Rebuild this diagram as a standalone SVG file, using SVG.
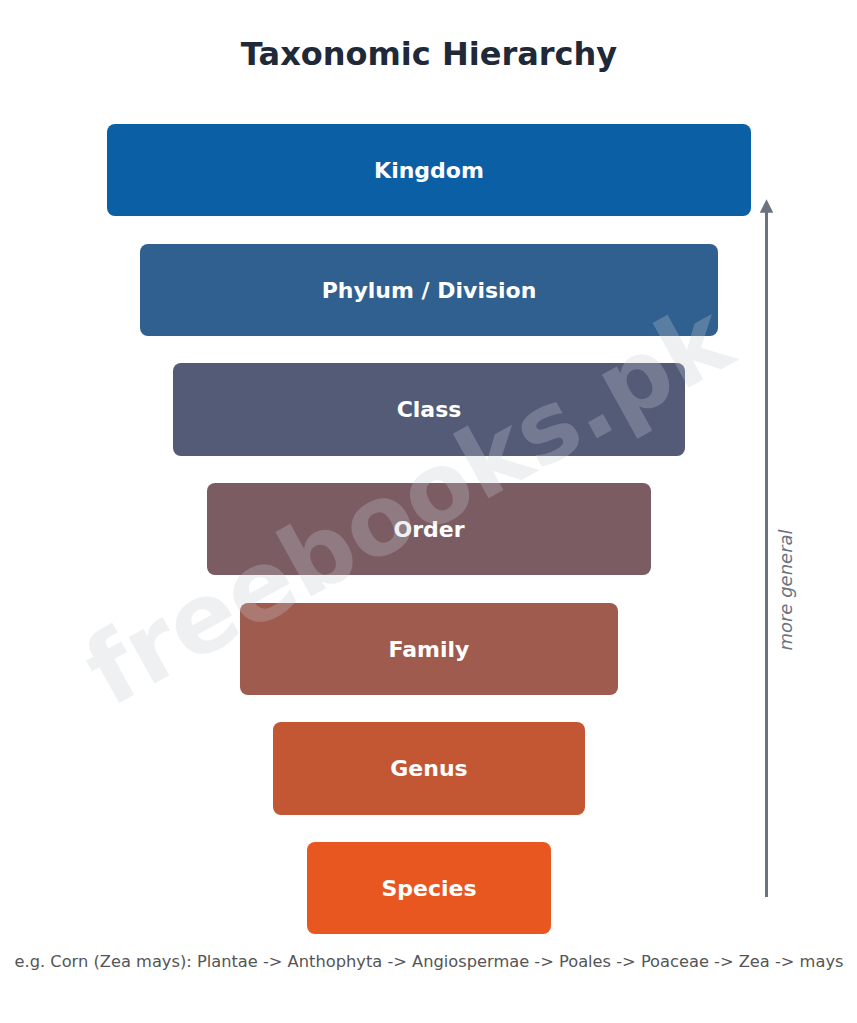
<svg xmlns="http://www.w3.org/2000/svg" width="857" height="1023" viewBox="0 0 857 1023">
<style>
.box{stroke:none}
.lbl{font-family:"DejaVu Sans",sans-serif;font-weight:bold;font-size:22px;fill:#ffffff;text-anchor:middle;dominant-baseline:central}
.title{font-family:"DejaVu Sans",sans-serif;font-weight:bold;font-size:32px;fill:#1f2937;text-anchor:middle}
.foot{font-family:"DejaVu Sans",sans-serif;font-size:16.25px;fill:#555555;text-anchor:middle}
.side{font-family:"DejaVu Sans",sans-serif;font-style:italic;font-size:18px;fill:#6b7280;text-anchor:middle}
.wm{font-family:"DejaVu Sans",sans-serif;font-weight:bold;font-size:97px;fill:#c8ccd4;opacity:0.28;text-anchor:middle}
</style>
<defs>
<marker id="ah" viewBox="0 0 10 10" refX="5" refY="5" markerWidth="4.5" markerHeight="4.5" orient="auto-start-reverse">
<path d="M0,0 L10,5 L0,10 z" fill="#6b7280"/>
</marker>
</defs>
<rect width="857" height="1023" fill="#ffffff"/>
<text class="title" x="429" y="65">Taxonomic Hierarchy</text>
<g id="kingdom"><rect class="box" x="107" y="124" width="644" height="92" rx="8" fill="#0b5fa5"/><text class="lbl" x="429" y="170">Kingdom</text></g>
<g id="phylum"><rect class="box" x="140" y="244" width="578" height="92" rx="8" fill="#30608f"/><text class="lbl" x="429" y="290">Phylum / Division</text></g>
<g id="class"><rect class="box" x="173" y="363" width="512" height="93" rx="8" fill="#545b77"/><text class="lbl" x="429" y="409">Class</text></g>
<g id="order"><rect class="box" x="207" y="483" width="444" height="92" rx="8" fill="#7b5c62"/><text class="lbl" x="429" y="529">Order</text></g>
<g id="family"><rect class="box" x="240" y="603" width="378" height="92" rx="8" fill="#9f5b4d"/><text class="lbl" x="429" y="649">Family</text></g>
<g id="genus"><rect class="box" x="273" y="722" width="312" height="93" rx="8" fill="#c45733"/><text class="lbl" x="429" y="768">Genus</text></g>
<g id="species"><rect class="box" x="307" y="842" width="244" height="92" rx="8" fill="#e85720"/><text class="lbl" x="429" y="888">Species</text></g>
<g id="connectors">
<line x1="766.5" y1="897" x2="766.5" y2="206" stroke="#6b7280" stroke-width="3" marker-end="url(#ah)"/>
</g>
<text class="side" transform="translate(791.5,590) rotate(-90)">more general</text>
<text class="foot" x="429" y="967">e.g. Corn (Zea mays): Plantae -&gt; Anthophyta -&gt; Angiospermae -&gt; Poales -&gt; Poaceae -&gt; Zea -&gt; mays</text>
<text class="wm" transform="translate(424,534) rotate(-29)">freebooks.pk</text>
</svg>
